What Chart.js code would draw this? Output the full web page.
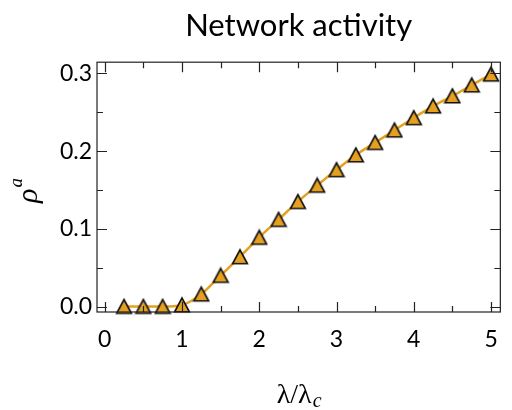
<!DOCTYPE html>
<html>
<head>
<meta charset="utf-8">
<script src="https://cdn.jsdelivr.net/npm/chart.js@4.4.1/dist/chart.umd.min.js"></script>
<style>
html, body { margin: 0; padding: 0; background: #fff; }
</style>
</head>
<body>
<canvas id="mycanvas" width="512" height="410"></canvas>
<script>
// lambda / lambda_c and network activity rho^a
var ratio = [0.25, 0.5, 0.75, 1.0, 1.25, 1.5, 1.75, 2.0, 2.25, 2.5,
             2.75, 3.0, 3.25, 3.5, 3.75, 4.0, 4.25, 4.5, 4.75, 5.0];
var activity = [0.000, 0.000, 0.000, 0.002, 0.016, 0.040, 0.064, 0.089, 0.112, 0.135,
                0.156, 0.176, 0.195, 0.211, 0.227, 0.243, 0.258, 0.271, 0.285, 0.299];
var xTicks = [0, 1, 2, 3, 4, 5];
var xMinor = [0.5, 1.5, 2.5, 3.5, 4.5];
var yTicks = [0.0, 0.1, 0.2, 0.3];
var yMinor = [0.05, 0.15, 0.25];

var orange = '#E6A020';

// matplotlib style '^' marker (as wide as tall, centred on its box)
var marker = document.createElement('canvas');
marker.width = 18; marker.height = 18;
var m = marker.getContext('2d');
m.beginPath();
m.moveTo(9, 2.0);
m.lineTo(1.6, 15.8);
m.lineTo(16.4, 15.8);
m.closePath();
m.fillStyle = orange;
m.fill();
m.lineWidth = 1.6;
m.strokeStyle = '#111';
m.lineJoin = 'miter';
m.stroke();

var points = [];
for (var i in ratio) {
  points.push({x: ratio[i], y: activity[i]});
}

// box + inward ticks on all four sides
var frameTicks = {
  id: 'frameTicks',
  afterDatasetsDraw: function(chart) {
    var ctx = chart.ctx, a = chart.chartArea;
    var xs = chart.scales.x, ys = chart.scales.y;
    ctx.save();
    ctx.strokeStyle = '#222';
    ctx.lineWidth = 1.2;
    ctx.strokeRect(a.left, a.top, a.right - a.left, a.bottom - a.top);
    ctx.beginPath();
    function vt(vals, len) {
      vals.forEach(function(v) {
        var px = Math.round(xs.getPixelForValue(v)) + 0.5;
        ctx.moveTo(px, a.top); ctx.lineTo(px, a.top + len);
        ctx.moveTo(px, a.bottom); ctx.lineTo(px, a.bottom - len);
      });
    }
    function ht(vals, len) {
      vals.forEach(function(v) {
        var py = Math.round(ys.getPixelForValue(v)) + 0.5;
        ctx.moveTo(a.left, py); ctx.lineTo(a.left + len, py);
        ctx.moveTo(a.right, py); ctx.lineTo(a.right - len, py);
      });
    }
    vt(xTicks, 10); vt(xMinor, 6);
    ht(yTicks, 10); ht(yMinor, 6);
    ctx.stroke();
    ctx.restore();
  },
  afterDraw: function(chart) {
    var ctx = chart.ctx, a = chart.chartArea;
    ctx.save();
    ctx.fillStyle = '#000';
    ctx.textBaseline = 'alphabetic';
    ctx.textAlign = 'left';
    // x title: lambda / lambda_c
    ctx.font = '28px "Liberation Serif"';
    var main = 'λ/λ';
    var w1 = ctx.measureText(main).width;
    ctx.font = 'italic 20px "Liberation Serif"';
    var w2 = ctx.measureText('c').width;
    var x0 = (a.left + a.right) / 2 - (w1 + w2) / 2;
    ctx.font = '28px "Liberation Serif"';
    ctx.fillText(main, x0, 403);
    ctx.font = 'italic 20px "Liberation Serif"';
    ctx.fillText('c', x0 + w1 + 1, 407);
    // y title: rho^a
    ctx.translate(37, 203);
    ctx.rotate(-Math.PI / 2);
    ctx.font = 'italic 30px "Liberation Serif"';
    var wr = ctx.measureText('ρ').width;
    ctx.fillText('ρ', 0, 0);
    ctx.font = 'italic 19px "Liberation Serif"';
    ctx.fillText('a', wr + 1, -15);
    ctx.restore();
  }
};

var ctx = document.getElementById('mycanvas');
var chart = new Chart(ctx, {
  type: 'line',
  data: {
    datasets: [{
      label: 'Network activity',
      data: points,
      borderColor: orange,
      backgroundColor: orange,
      borderWidth: 2.5,
      cubicInterpolationMode: 'monotone',
      pointStyle: marker,
      pointRadius: 8,
      pointHoverRadius: 8,
      fill: false,
      clip: false
    }]
  },
  options: {
    responsive: false,
    animation: false,
    devicePixelRatio: 1,
    layout: { padding: { left: 0, right: 10, top: 0, bottom: 0 } },
    plugins: {
      legend: { display: false },
      tooltip: { enabled: false },
      title: {
        display: true,
        text: 'Network activity',
        fullSize: false,
        color: '#000',
        font: { family: 'Lato', size: 31, weight: 'normal', lineHeight: 1.2 },
        padding: { top: 7, bottom: 18 }
      }
    },
    scales: {
      x: {
        type: 'linear',
        min: -0.1,
        max: 5.12,
        grid: { display: false, drawTicks: false },
        border: { display: false },
        ticks: {
          includeBounds: false,
          color: '#000',
          padding: 14,
          font: { family: 'Lato', size: 23 },
          callback: function(v) { return v; }
        },
        afterBuildTicks: function(scale) {
          scale.ticks = xTicks.map(function(v) { return {value: v}; });
        },
        afterFit: function(scale) { scale.height = 98; }
      },
      y: {
        type: 'linear',
        min: -0.007,
        max: 0.3145,
        grid: { display: false, drawTicks: false },
        border: { display: false },
        ticks: {
          includeBounds: false,
          color: '#000',
          padding: 5,
          font: { family: 'Lato', size: 23 },
          callback: function(v) { return v.toFixed(1); }
        },
        afterBuildTicks: function(scale) {
          scale.ticks = yTicks.map(function(v) { return {value: v}; });
        },
        afterFit: function(scale) { scale.width = 97; }
      }
    }
  },
  plugins: [frameTicks]
});
</script>
</body>
</html>
